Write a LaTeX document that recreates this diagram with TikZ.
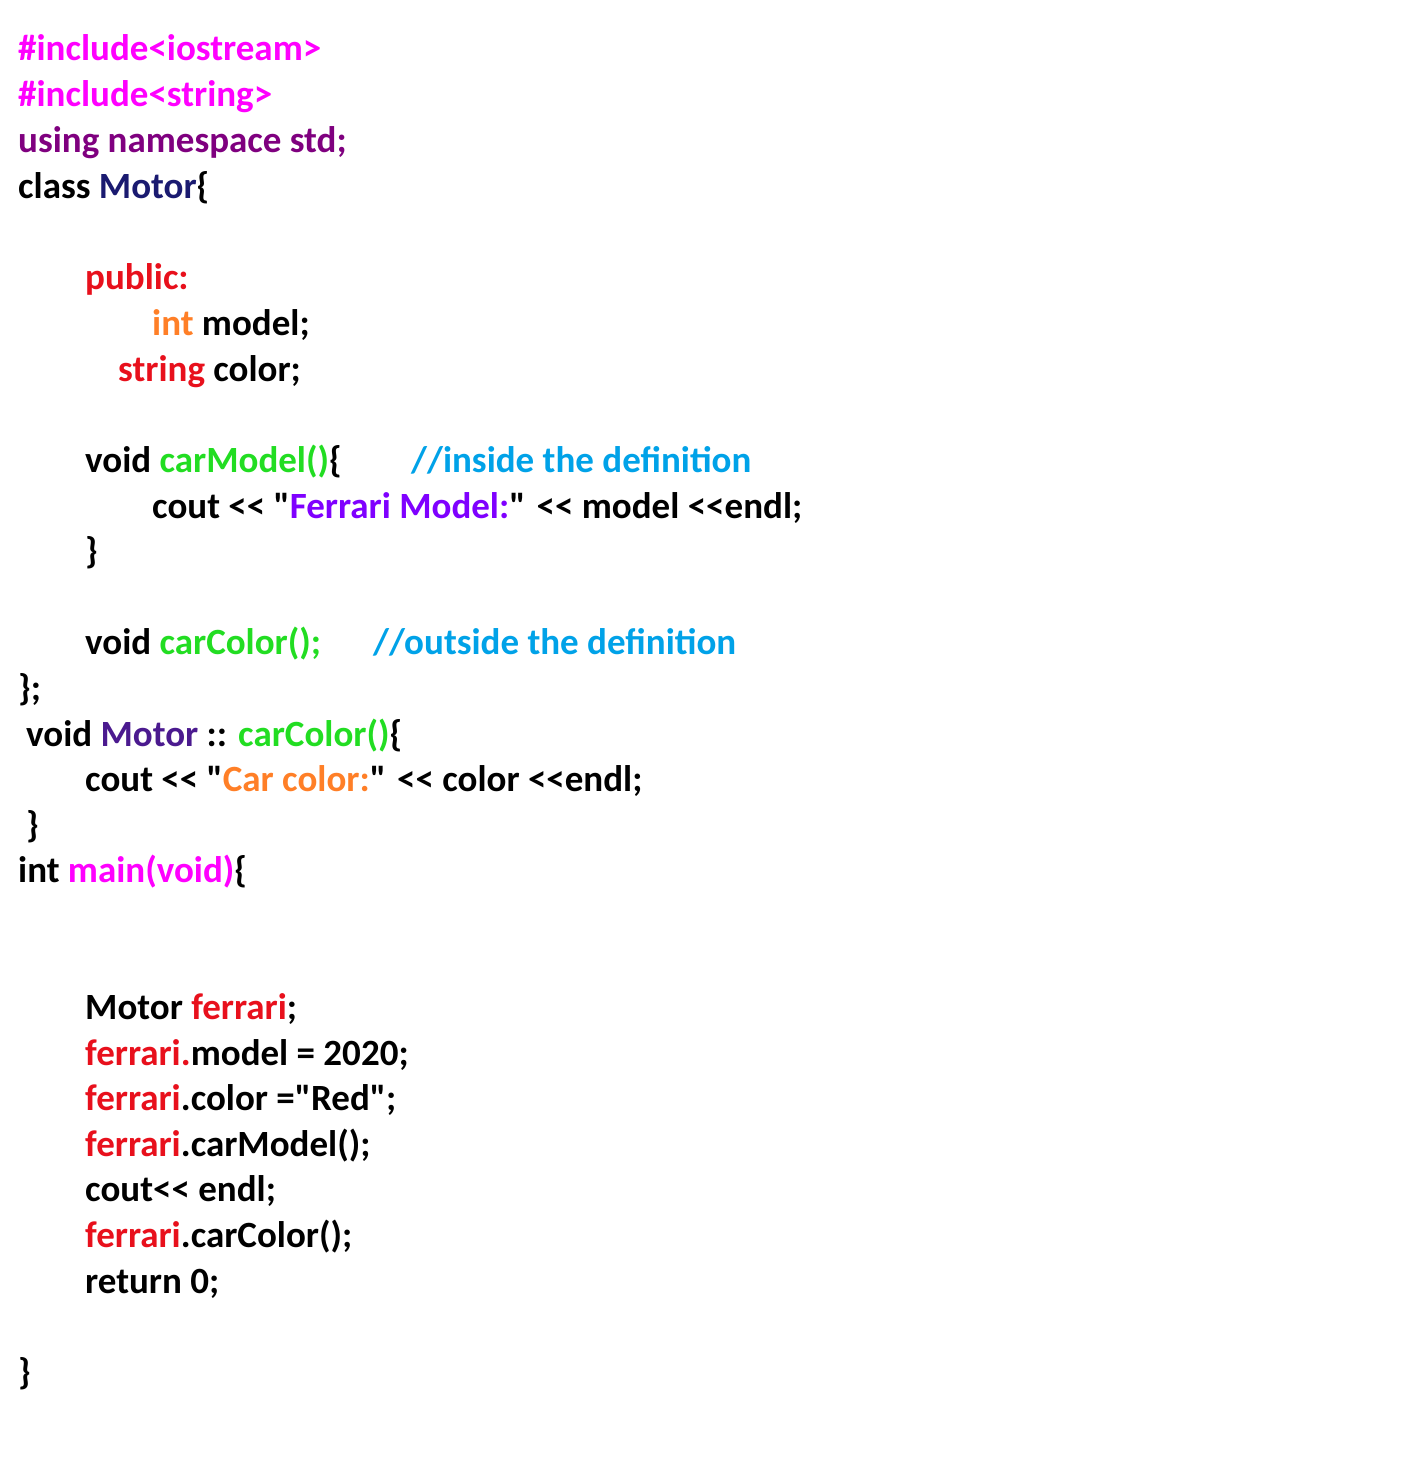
\documentclass[tikz,border=0pt]{standalone}
\usepackage{fontspec}
\setmainfont{Carlito}
\definecolor{cmag}{HTML}{FF00FF}
\definecolor{cpur}{HTML}{7F007F}
\definecolor{cnavy}{HTML}{1A1A70}
\definecolor{cred}{HTML}{E8101C}
\definecolor{corg}{HTML}{FF7F27}
\definecolor{cgrn}{HTML}{22DD22}
\definecolor{cblu}{HTML}{00A2E8}
\definecolor{cvio}{HTML}{7F00FF}
\definecolor{cind}{HTML}{4B1A8F}
\newcommand{\myqq}{\textquotedbl}
\newcommand{\myll}{<{}<}
\begin{document}
\begin{tikzpicture}[x=1pt,y=-1pt,
  code/.style={anchor=base west,inner sep=0pt,font=\fontsize{37}{44}\selectfont\bfseries}]
\useasboundingbox (0,0) rectangle (1400,1461);
\fill[white] (0,0) rectangle (1400,1461);
\node[code] (l1) at (18,61) {\textcolor{cmag}{\#include<iostream>}};
\node[code] (l2) at (18,107) {\textcolor{cmag}{\#include<string>}};
\node[code] (l3) at (18,153) {\textcolor{cpur}{using namespace std;}};
\node[code] (l4) at (18,198) {class \textcolor{cnavy}{Motor}\{};
\node[code] (l5) at (85,289) {\textcolor{cred}{public:}};
\node[code] (l6) at (152,335) {\textcolor{corg}{int} model;};
\node[code] (l7) at (118,381) {\textcolor{cred}{string} color;};
\node[code] (l8) at (85,472) {void \textcolor{cgrn}{carModel()}\{};
\node[code] (c1) at (411,472) {\textcolor{cblu}{//inside the definition}};
\node[code] (l9) at (152,518) {cout \myll{} \myqq\textcolor{cvio}{Ferrari Model:}\myqq{} \myll{} model \myll endl;};
\node[code] (l10) at (85,563) {\}};
\node[code] (l11) at (85,654) {void \textcolor{cgrn}{carColor();}};
\node[code] (c2) at (373,654) {\textcolor{cblu}{//outside the definition}};
\node[code] (l12) at (18,700) {\};};
\node[code] (l13) at (26,746) {void \textcolor{cind}{Motor} :: \textcolor{cgrn}{carColor()}\{};
\node[code] (l14) at (85,791) {cout \myll{} \myqq\textcolor{corg}{Car color:}\myqq{} \myll{} color \myll endl;};
\node[code] (l15) at (26,837) {\}};
\node[code] (l16) at (18,882) {int \textcolor{cmag}{main(void)}\{};
\node[code] (l17) at (85,1019) {Motor \textcolor{cred}{ferrari};};
\node[code] (l18) at (85,1065) {\textcolor{cred}{ferrari.}model = 2020;};
\node[code] (l19) at (85,1110) {\textcolor{cred}{ferrari}.color =\myqq Red\myqq;};
\node[code] (l20) at (85,1156) {\textcolor{cred}{ferrari}.carModel();};
\node[code] (l21) at (85,1201) {cout\myll{} endl;};
\node[code] (l22) at (85,1247) {\textcolor{cred}{ferrari}.carColor();};
\node[code] (l23) at (85,1293) {return 0;};
\node[code] (l24) at (18,1384) {\}};
\end{tikzpicture}
\end{document}
